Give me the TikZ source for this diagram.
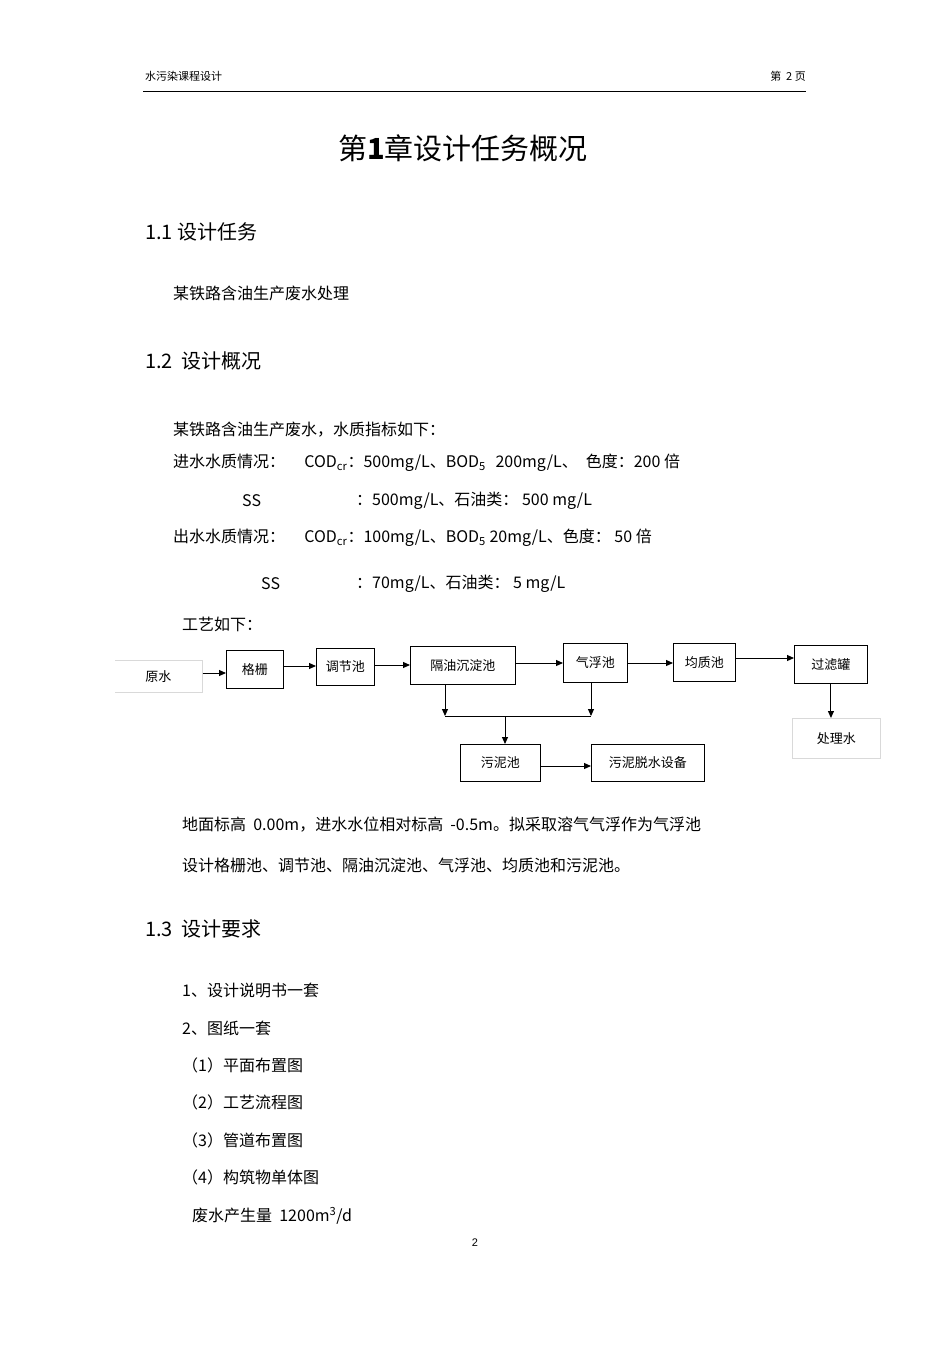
\documentclass[tikz,border=0pt]{standalone}
\usepackage{fontspec}
\setmainfont{Liberation Sans}
\newfontfamily\cjk{Noto Sans CJK SC}
\usetikzlibrary{arrows.meta}
\begin{document}
\begin{tikzpicture}[x=1pt,y=-1pt,
  t/.style={anchor=west,inner sep=0pt,font=\cjk\fontsize{16}{16}\selectfont},
  h/.style={anchor=west,inner sep=0pt,font=\cjk\fontsize{20}{20}\selectfont},
  bx/.style={draw,line width=0.9pt,font=\cjk\fontsize{13}{13}\selectfont,anchor=north west,inner sep=0pt},
  gbx/.style={draw=black!15,line width=0.6pt,font=\cjk\fontsize{13}{13}\selectfont,anchor=north west,inner sep=0pt},
  ar/.style={-{Triangle[length=7pt,width=6pt]},line width=1pt}]
\useasboundingbox (0,0) rectangle (950,1345);
\fill[white] (0,0) rectangle (950,1345);
\node[t,font=\cjk\fontsize{11}{11}\selectfont] (hd) at (145,76) {水污染课程设计};
\node[anchor=east,inner sep=0pt,font=\cjk\fontsize{11}{11}\selectfont] (pg) at (806,76) {第\ \ 2 页};
\draw[line width=0.6pt] (143,91) -- (806,91);
\node[inner sep=0pt,font=\cjk\fontsize{29}{29}\selectfont] (title) at (463,148) {第\textbf{1}章设计任务概况};
\node[h] (s11) at (145,232) {1.1 设计任务};
\node[t] (l1) at (173,293) {某铁路含油生产废水处理};
\node[h] (s12) at (145,361) {1.2\ \ 设计概况};
\node[t] (l2) at (173,430) {某铁路含油生产废水，水质指标如下：};
\node[t] (l3) at (173,463) {进水水质情况：\hspace{1.2em}COD\textsubscript{cr}：500mg/L、BOD\textsubscript{5}\hspace{0.6em}200mg/L、\hspace{0.5em}色度：200 倍};
\node[t] (l4a) at (242,501) {SS};
\node[t] (l4) at (356,501) {：500mg/L、石油类：\ 500 mg/L};
\node[t] (l5) at (173,538) {出水水质情况：\hspace{1.2em}COD\textsubscript{cr}：100mg/L、BOD\textsubscript{5}\ 20mg/L、色度：\ 50 倍};
\node[t] (l6a) at (261,584) {SS};
\node[t] (l6) at (356,584) {：70mg/L、石油类：\ 5 mg/L};
\node[t] (l7) at (182,624) {工艺如下：};
% flow chart
\node[gbx,minimum width=88pt,minimum height=32pt] (yuan) at (114,660) {原水};
\draw[white,line width=1.5pt] (114,659) -- (114,693);
\node[bx,minimum width=57pt,minimum height=38pt] (ge) at (226,650) {格栅};
\node[bx,minimum width=58pt,minimum height=37pt] (tiao) at (316,648) {调节池};
\node[bx,minimum width=105pt,minimum height=38pt] (geyou) at (410,646) {隔油沉淀池};
\node[bx,minimum width=64pt,minimum height=39pt] (qi) at (563,643) {气浮池};
\node[bx,minimum width=62pt,minimum height=38pt] (jun) at (673,643) {均质池};
\node[bx,minimum width=73pt,minimum height=38pt] (guo) at (794,645) {过滤罐};
\node[gbx,minimum width=88pt,minimum height=40pt] (chu) at (792,718) {处理水};
\node[bx,minimum width=80pt,minimum height=37pt] (wn) at (460,744) {污泥池};
\node[bx,minimum width=113pt,minimum height=37pt] (ws) at (591,744) {污泥脱水设备};
\draw[ar] (yuan.east |- 0,673) -- (ge.west |- 0,673);
\draw[ar] (ge.east |- 0,666) -- (tiao.west |- 0,666);
\draw[ar] (tiao.east |- 0,665) -- (geyou.west |- 0,665);
\draw[ar] (geyou.east |- 0,663) -- (qi.west |- 0,663);
\draw[ar] (qi.east |- 0,663) -- (jun.west |- 0,663);
\draw[ar] (jun.east |- 0,658) -- (guo.west |- 0,658);
\draw[ar] (guo.south) -- (chu.north -| guo.south);
\coordinate (j1) at (445,716);
\coordinate (j2) at (591,716);
\coordinate (jm) at (505,716);
\draw[ar] (geyou.south -| j1) -- (j1);
\draw[ar] (qi.south -| j2) -- (j2);
\draw[line width=1pt] (j1) -- (j2);
\draw[ar] (jm) -- (wn.north -| jm);
\draw[ar] (wn.east |- 0,766) -- (ws.west |- 0,766);
\node[t] (l8) at (182,825) {地面标高\ \ 0.00m，进水水位相对标高\ \ -0.5m。拟采取溶气气浮作为气浮池};
\node[t] (l9) at (182,865) {设计格栅池、调节池、隔油沉淀池、气浮池、均质池和污泥池。};
\node[h] (s13) at (145,929) {1.3\ \ 设计要求};
\node[t] (r1) at (182,990) {1、设计说明书一套};
\node[t] (r2) at (182,1028) {2、图纸一套};
\node[t] (r3) at (182,1065) {（1）平面布置图};
\node[t] (r4) at (182,1102) {（2）工艺流程图};
\node[t] (r5) at (182,1140) {（3）管道布置图};
\node[t] (r6) at (182,1177) {（4）构筑物单体图};
\node[t] (r7) at (192,1216) {废水产生量\ \ 1200m\textsuperscript{3}/d};
\node[inner sep=0pt,font=\fontsize{11}{11}\selectfont] (pn) at (475,1243) {2};
\end{tikzpicture}
\end{document}
